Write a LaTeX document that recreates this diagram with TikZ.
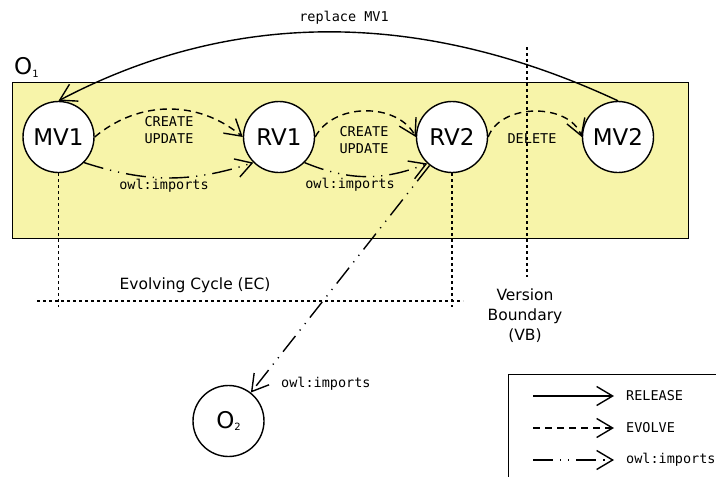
\documentclass[tikz,border=0pt]{standalone}
\usepackage{fontspec}
\setmainfont{DejaVu Sans}
\setmonofont{DejaVu Sans Mono}
\usetikzlibrary{arrows.meta}
\definecolor{ontofill}{HTML}{F7F4A9}
\newcommand{\ontoname}[1]{\fontsize{23}{27}\selectfont O\raisebox{-2.5pt}{\fontsize{10}{12}\selectfont #1}}

\begin{document}
\begin{tikzpicture}[x=1pt,y=-1pt,
  every node/.style={inner sep=0pt},
  version/.style={circle,draw,fill=white,line width=1.4pt,minimum size=71pt,
                  font=\fontsize{23}{27}\selectfont},
  tip/.style={-{Straight Barb[length=16pt,width=19pt,line width=1.4pt]}},
  release/.style={tip,line width=1.4pt},
  evolve/.style={tip,line width=1.4pt,dash pattern=on 7pt off 5pt},
  imports/.style={tip,line width=1.4pt,
                  dash pattern=on 20pt off 7pt on 1.2pt off 7pt on 1.2pt off 7pt},
  guide/.style={line width=1.4pt,dash pattern=on 3pt off 3pt},
  mono/.style={font=\fontsize{13.5}{16.5}\selectfont\ttfamily},
  sans/.style={font=\fontsize{15.5}{19}\selectfont},
]
\clip (0,0) rectangle (716,477);

% ontology O1 container
\node[draw,fill=ontofill,line width=1.4pt,minimum width=676pt,minimum height=156pt,
      anchor=north west] (o1box) at (12,82) {};
\node[anchor=base west] (o1label) at (14,74.5) {\ontoname{1}};

% versions
\node[version] (mv1) at (58.5,137) {MV1};
\node[version] (rv1) at (279,137) {RV1};
\node[version] (rv2) at (452,137) {RV2};
\node[version] (mv2) at (618,137) {MV2};
\node[version] (o2) at (228.5,421) {\ontoname{2}};

% guide lines
\coordinate (ecl) at (37,301);
\coordinate (ecr) at (463,301);
\coordinate (mvd) at (58.5,307);
\coordinate (rvd) at (452,307);
\coordinate (vbt) at (527,47);
\coordinate (vbb) at (527,277);
\draw[guide] (mv1.south) -- (mvd);
\draw[guide] (rv2.south) -- (rvd);
\draw[guide] (ecl) -- (ecr);
\draw[guide] (vbt) -- (vbb);
\node[sans] (eclabel) at (195,285) {Evolving Cycle (EC)};
\node[sans,align=center] (vblabel) at (525,316) {Version\\[1pt]Boundary\\[1pt](VB)};

% release: replace MV1
\draw[release] (mv2.north) .. controls (421,9) and (233,9) .. (mv1.north);
\node[mono] (replace) at (344,18) {replace MV1};

% evolve arcs
\draw[evolve] (mv1.east) to[bend left=40] (rv1.west);
\node[mono,align=center] (cu1) at (169,130) {CREATE\\UPDATE};
\draw[evolve] (rv1.east) to[bend left=62] (rv2.west);
\node[mono,align=center] (cu2) at (364,140) {CREATE\\UPDATE};
\draw[evolve] (rv2.east) to[bend left=70] (mv2.west);
\node[mono] (del) at (532,139) {DELETE};

% imports
\draw[imports] (mv1.-45) to[bend right=18] (rv1.-135);
\node[mono] (imp1) at (164,186) {owl:imports};
\draw[imports] (rv1.-45) to[bend right=22] (rv2.-133);
\node[mono] (imp2) at (350,185) {owl:imports};
\draw[imports] (rv2) -- (o2);
\node[mono,anchor=west] (imp3) at (281,384) {owl:imports};

% legend
\node[draw,line width=1.4pt,anchor=north west,minimum width=240pt,minimum height=130pt]
      (legend) at (508,374) {};
\coordinate (la1) at (533,396); \coordinate (lb1) at (614,396);
\coordinate (la2) at (533,428); \coordinate (lb2) at (614,428);
\coordinate (la3) at (533,460); \coordinate (lb3) at (614,460);
\draw[release] (la1) -- (lb1);
\draw[evolve] (la2) -- (lb2);
\draw[imports] (la3) -- (lb3);
\node[mono,anchor=west] (lrel) at (626,396) {RELEASE};
\node[mono,anchor=west] (levo) at (626,428) {EVOLVE};
\node[mono,anchor=west] (limp) at (626,460) {owl:imports};
\end{tikzpicture}
\end{document}
